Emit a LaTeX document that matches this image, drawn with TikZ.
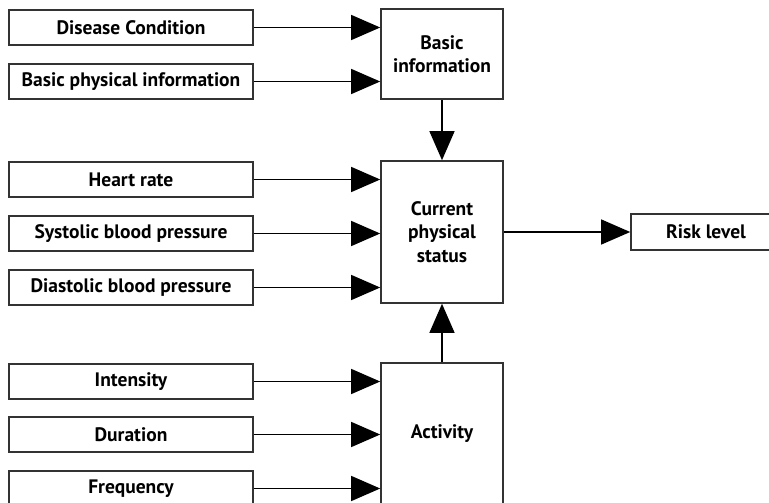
\documentclass[tikz,border=0pt]{standalone}
\usepackage{fontspec}
\setmainfont{PT Sans}
\usetikzlibrary{arrows.meta}
\begin{document}
\begin{tikzpicture}[x=1pt,y=-1pt,
  inbox/.style={draw=black!80,line width=1.6pt,minimum width=244pt,minimum height=35pt,inner sep=0pt,font=\fontsize{19.5}{22}\selectfont\bfseries},
  bigbox/.style={draw=black!80,line width=1.6pt,minimum width=122pt,inner sep=0pt,align=center,font=\fontsize{19.5}{23.5}\selectfont\bfseries},
  conn/.style={line width=1.3pt,-{Triangle[length=29pt,width=25pt]}}]
\useasboundingbox (0,0) rectangle (769,503);
\clip (0,0) rectangle (769,503);
% left inputs
\node[inbox] (dc) at (131,27.5) {Disease Condition};
\node[inbox] (bp) at (131,81.5) {Basic physical information};
\node[inbox] (hr) at (131,179.5) {Heart rate};
\node[inbox] (sb) at (131,233.5) {Systolic blood pressure};
\node[inbox] (db) at (131,287.5) {Diastolic blood pressure};
\node[inbox] (in) at (131,381.5) {Intensity};
\node[inbox] (du) at (131,434.5) {Duration};
\node[inbox] (fr) at (131,488.5) {Frequency};
% central boxes
\node[bigbox,minimum height=90pt] (bi) at (442,54) {Basic\\information};
\node[bigbox,minimum height=142pt] (cs) at (442,232) {Current\\physical\\status};
\node[bigbox,minimum height=170pt] (ac) at (442,448) {};
\node[bigbox,draw=none] (acl) at (442,434) {Activity};
\node[inbox,minimum width=170pt,minimum height=36pt] (rl) at (716,232) {\hspace*{-20pt}Risk level};
% connectors
\draw[conn] (dc.east) -- (dc.east -| bi.west);
\draw[conn] (bp.east) -- (bp.east -| bi.west);
\draw[conn] (hr.east) -- (hr.east -| cs.west);
\draw[conn] (sb.east) -- (sb.east -| cs.west);
\draw[conn] (db.east) -- (db.east -| cs.west);
\draw[conn] (in.east) -- (in.east -| ac.west);
\draw[conn] (du.east) -- (du.east -| ac.west);
\draw[conn] (fr.east) -- (fr.east -| ac.west);
\draw[conn] (bi.south) -- (cs.north);
\draw[conn] (ac.north) -- (cs.south);
\draw[conn] (cs.east) -- (rl.west);
\end{tikzpicture}
\end{document}
